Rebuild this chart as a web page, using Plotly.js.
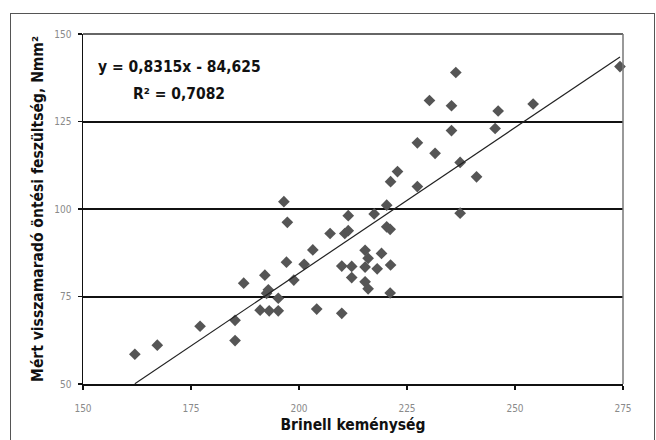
<!DOCTYPE html>
<html>
<head>
<meta charset="utf-8">
<script src="https://cdn.plot.ly/plotly-3.0.1.min.js"></script>
<style>
html,body{margin:0;padding:0;background:#fff;}
#wrap{position:relative;width:656px;height:440px;overflow:hidden;}
#chart{position:absolute;left:0;top:0;width:656px;height:440px;}
#frame{position:absolute;left:10px;top:13px;width:643px;height:460px;border:1.5px solid #555;pointer-events:none;}
</style>
</head>
<body>
<div id="wrap"><div id="frame"></div><div id="chart"></div></div>
<script>
// Brinell hardness (x) and measured residual casting stress (y)
const hardness = [162.0,167.2,177.1,185.2,185.2,187.2,192.1,192.5,192.9,191.0,193.1,195.2,195.2,
  197.1,197.3,196.5,198.8,201.2,203.2,204.1,207.2,210.6,211.4,211.4,209.9,212.2,212.2,
  215.3,216.0,219.1,215.3,218.1,221.2,215.3,216.0,221.1,209.9,217.4,220.3,220.3,221.1,
  221.2,222.8,227.4,227.4,231.5,230.2,235.3,235.3,236.3,237.3,237.3,241.1,245.4,246.1,254.2,274.3];
const stress = [58.5,61.1,66.5,68.2,62.4,78.8,81.1,75.9,76.9,71.1,70.9,70.9,74.5,
  84.8,96.2,102.1,79.7,84.2,88.3,71.4,93.0,93.0,93.8,98.1,83.7,83.6,80.4,
  88.2,85.9,87.3,83.4,82.9,84.0,79.2,77.2,76.0,70.2,98.6,101.1,94.9,94.2,
  107.8,110.7,106.4,118.9,115.9,131.0,129.5,122.4,139.0,113.3,98.8,109.2,123.0,128.0,130.0,140.7];
const slope = 0.8315, intercept = -84.625;
const eqText = "y = 0,8315x - 84,625";
const r2Text = "R² = 0,7082";
const xTicks = [150,175,200,225,250,275];
const yTicks = [50,75,100,125,150];

const xMin = Math.min(...hardness), xMax = Math.max(...hardness);
const fitX = [xMin, xMax];
const fitY = fitX.map(v => slope*v + intercept);

const font = "DejaVu Sans Condensed, DejaVu Sans, sans-serif";
const data = [
  {x: hardness, y: stress, type:'scatter', mode:'markers',
   marker:{symbol:'diamond', size:9, color:'#555555'}, hoverinfo:'skip', cliponaxis:false},
  {x: fitX, y: fitY, type:'scatter', mode:'lines',
   line:{color:'#222222', width:1.2}, hoverinfo:'skip'}
];
const layout = {
  width:656, height:440,
  margin:{l:83, r:33, t:34, b:56},
  paper_bgcolor:'rgba(0,0,0,0)', plot_bgcolor:'#ffffff',
  showlegend:false,
  font:{family:font, color:'#000'},
  xaxis:{range:[150,275], tickvals:xTicks, ticktext:xTicks.map(String),
    showgrid:false, zeroline:false, showline:true, linecolor:'#111', linewidth:1.5,
    ticks:'outside', ticklen:4, tickcolor:'#111', tickwidth:1.5, ticklabelstandoff:10,
    tickfont:{size:10, color:'#8a8a8a', family:font},
    title:{text:'<b>Brinell keménység</b>', font:{size:15.5, family:font, color:'#111'}, standoff:6}},
  yaxis:{range:[50,150], tickvals:yTicks, ticktext:yTicks.map(String),
    showgrid:true, gridcolor:'#111', gridwidth:2, zeroline:false,
    showline:true, linecolor:'#111', linewidth:1.5,
    ticks:'outside', ticklen:4, tickcolor:'#111', tickwidth:1.5, ticklabelstandoff:4,
    tickfont:{size:10, color:'#8a8a8a', family:font},
    title:{text:'<b>Mért visszamaradó öntési feszültség, Nmm²</b>', font:{size:15.5, family:font, color:'#111'}, standoff:7}},
  shapes:[
    {type:'line', xref:'paper', yref:'paper', x0:0, x1:1, y0:1, y1:1, line:{color:'#666', width:2}},
    {type:'line', xref:'paper', yref:'paper', x0:1, x1:1, y0:0, y1:1, line:{color:'#777', width:1.5}}
  ],
  annotations:[
    {text:'<b>'+eqText+'</b>', xref:'paper', yref:'paper', x:0.024, y:0.905, xanchor:'left', yanchor:'middle',
     showarrow:false, font:{size:15.5, family:font, color:'#111'}},
    {text:'<b>'+r2Text+'</b>', xref:'paper', yref:'paper', x:0.088, y:0.828, xanchor:'left', yanchor:'middle',
     showarrow:false, font:{size:15.5, family:font, color:'#111'}}
  ]
};
Plotly.newPlot('chart', data, layout, {displayModeBar:false, staticPlot:true});
</script>
</body>
</html>
